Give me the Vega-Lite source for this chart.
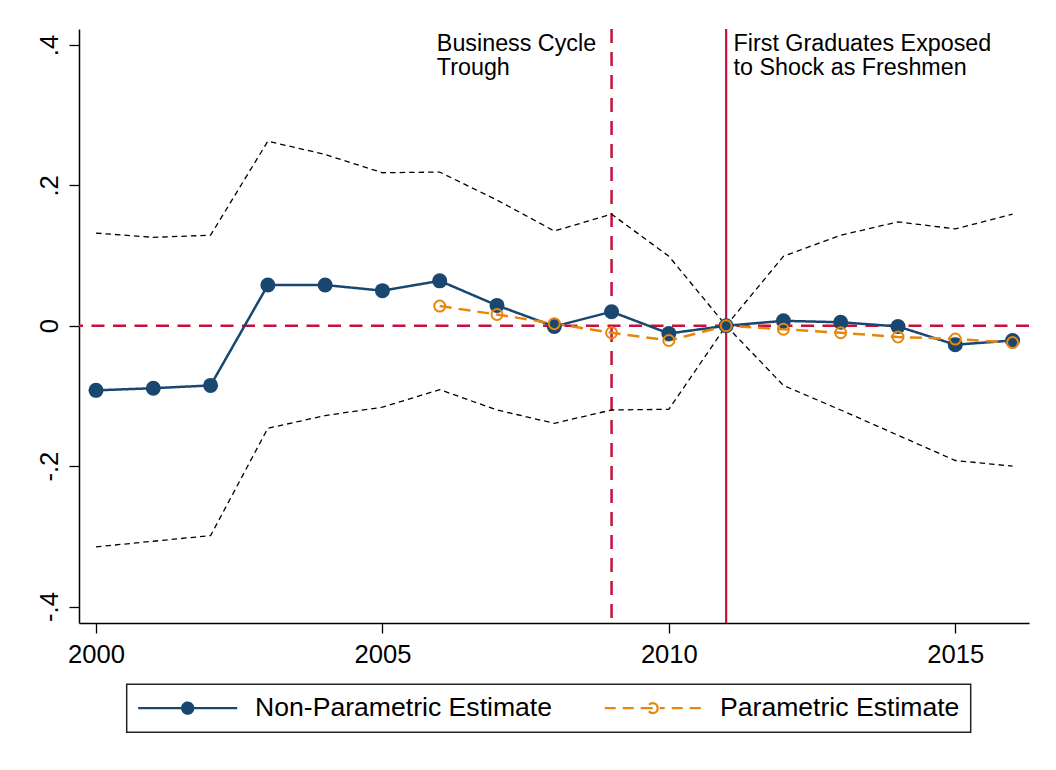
{
  "$schema": "https://vega.github.io/schema/vega-lite/v6.json",
  "width": 950,
  "height": 594,
  "autosize": {"type": "none"},
  "padding": {"left": 79, "top": 29, "right": 27, "bottom": 147},
  "background": "white",
  "config": {
    "view": {"stroke": null},
    "font": "Liberation Sans",
    "axis": {
      "grid": false,
      "domainColor": "black",
      "domainWidth": 1.5,
      "tickColor": "black",
      "tickWidth": 1.3,
      "tickSize": 10,
      "labelColor": "black",
      "labelFont": "Liberation Sans",
      "labelFontSize": 25.6,
      "labelFlush": false,
      "title": null
    }
  },
  "datasets": {
    "estimates": [
      {"year": 2000, "series": "Non-Parametric Estimate", "value": -0.092},
      {"year": 2001, "series": "Non-Parametric Estimate", "value": -0.089},
      {"year": 2002, "series": "Non-Parametric Estimate", "value": -0.085},
      {"year": 2003, "series": "Non-Parametric Estimate", "value": 0.058},
      {"year": 2004, "series": "Non-Parametric Estimate", "value": 0.058},
      {"year": 2005, "series": "Non-Parametric Estimate", "value": 0.05},
      {"year": 2006, "series": "Non-Parametric Estimate", "value": 0.064},
      {"year": 2007, "series": "Non-Parametric Estimate", "value": 0.029},
      {"year": 2008, "series": "Non-Parametric Estimate", "value": -0.001},
      {"year": 2009, "series": "Non-Parametric Estimate", "value": 0.02},
      {"year": 2010, "series": "Non-Parametric Estimate", "value": -0.011},
      {"year": 2011, "series": "Non-Parametric Estimate", "value": 0},
      {"year": 2012, "series": "Non-Parametric Estimate", "value": 0.007},
      {"year": 2013, "series": "Non-Parametric Estimate", "value": 0.005},
      {"year": 2014, "series": "Non-Parametric Estimate", "value": -0.001},
      {"year": 2015, "series": "Non-Parametric Estimate", "value": -0.027},
      {"year": 2016, "series": "Non-Parametric Estimate", "value": -0.021},
      {"year": 2006, "series": "Parametric Estimate", "value": 0.028},
      {"year": 2007, "series": "Parametric Estimate", "value": 0.016},
      {"year": 2008, "series": "Parametric Estimate", "value": 0.003},
      {"year": 2009, "series": "Parametric Estimate", "value": -0.01},
      {"year": 2010, "series": "Parametric Estimate", "value": -0.021},
      {"year": 2011, "series": "Parametric Estimate", "value": 0},
      {"year": 2012, "series": "Parametric Estimate", "value": -0.005},
      {"year": 2013, "series": "Parametric Estimate", "value": -0.01},
      {"year": 2014, "series": "Parametric Estimate", "value": -0.016},
      {"year": 2015, "series": "Parametric Estimate", "value": -0.019},
      {"year": 2016, "series": "Parametric Estimate", "value": -0.024}
    ],
    "bands": [
      {"year": 2000, "lo": -0.315, "hi": 0.132},
      {"year": 2001, "lo": -0.307, "hi": 0.126},
      {"year": 2002, "lo": -0.299, "hi": 0.129},
      {"year": 2003, "lo": -0.146, "hi": 0.263},
      {"year": 2004, "lo": -0.128, "hi": 0.244},
      {"year": 2005, "lo": -0.116, "hi": 0.218},
      {"year": 2006, "lo": -0.091, "hi": 0.219},
      {"year": 2007, "lo": -0.12, "hi": 0.179},
      {"year": 2008, "lo": -0.139, "hi": 0.135},
      {"year": 2009, "lo": -0.12, "hi": 0.159},
      {"year": 2010, "lo": -0.119, "hi": 0.099},
      {"year": 2011, "lo": 0, "hi": 0},
      {"year": 2012, "lo": -0.085, "hi": 0.099},
      {"year": 2013, "lo": -0.12, "hi": 0.129},
      {"year": 2014, "lo": -0.156, "hi": 0.148},
      {"year": 2015, "lo": -0.192, "hi": 0.138},
      {"year": 2016, "lo": -0.2, "hi": 0.159}
    ],
    "baseline": [{"value": 0}],
    "trough": [{"year": 2009}],
    "exposure": [{"year": 2011}],
    "notes": [
      {"year": 2005.95, "value": 0.391, "note": ["Business Cycle", "Trough"]},
      {"year": 2011.13, "value": 0.391, "note": ["First Graduates Exposed", "to Shock as Freshmen"]}
    ]
  },
  "layer": [
    {
      "data": {"name": "baseline"},
      "mark": {"type": "rule", "color": "#C8103C", "strokeWidth": 2.5, "strokeDash": [13, 8.5]},
      "encoding": {
        "y": {
          "field": "value",
          "type": "quantitative",
          "scale": {"domain": [-0.4235, 0.4228], "nice": false, "zero": false},
          "axis": {
            "values": [-0.4, -0.2, 0, 0.2, 0.4],
            "labelExpr": "datum.value == 0 ? '0' : (datum.value < 0 ? '-' : '') + '.' + round(abs(datum.value) * 10)",
            "labelAngle": -90,
            "labelAlign": "center",
            "labelBaseline": "bottom",
            "labelPadding": 6.6
          }
        }
      }
    },
    {
      "data": {"name": "trough"},
      "mark": {"type": "rule", "color": "#C8103C", "strokeWidth": 2.5, "strokeDash": [14, 9]},
      "encoding": {
        "x": {
          "field": "year",
          "type": "quantitative",
          "scale": {"domain": [1999.703, 2016.287], "nice": false, "zero": false},
          "axis": {"values": [2000, 2005, 2010, 2015], "format": "d", "labelPadding": 9}
        }
      }
    },
    {
      "data": {"name": "exposure"},
      "mark": {"type": "rule", "color": "#C8103C", "strokeWidth": 2.2},
      "encoding": {
        "x": {"field": "year", "type": "quantitative", "scale": {"domain": [1999.703, 2016.287], "nice": false, "zero": false}}
      }
    },
    {
      "data": {"name": "bands"},
      "transform": [{"fold": ["lo", "hi"], "as": ["bound", "limit"]}],
      "mark": {"type": "line", "color": "black", "strokeWidth": 1.3, "strokeDash": [5.5, 4]},
      "encoding": {
        "x": {"field": "year", "type": "quantitative", "scale": {"domain": [1999.703, 2016.287], "nice": false, "zero": false}},
        "y": {"field": "limit", "type": "quantitative", "scale": {"domain": [-0.4235, 0.4228], "nice": false, "zero": false}},
        "detail": {"field": "bound"}
      }
    },
    {
      "data": {"name": "estimates"},
      "mark": {"type": "line", "strokeWidth": 2.5},
      "encoding": {
        "x": {"field": "year", "type": "quantitative", "scale": {"domain": [1999.703, 2016.287], "nice": false, "zero": false}},
        "y": {"field": "value", "type": "quantitative", "scale": {"domain": [-0.4235, 0.4228], "nice": false, "zero": false}},
        "color": {
          "field": "series",
          "type": "nominal",
          "scale": {"domain": ["Non-Parametric Estimate", "Parametric Estimate"], "range": ["#1A476F", "#E8860C"]},
          "legend": {
            "orient": "none",
            "legendX": 47.7,
            "legendY": 655.3,
            "direction": "horizontal",
            "columns": 2,
            "title": null,
            "padding": 10.5,
            "fillColor": "white",
            "strokeColor": "#222222",
            "labelFont": "Liberation Sans",
            "labelFontSize": 26.6,
            "labelColor": "black",
            "labelLimit": 600,
            "labelOffset": 54,
            "symbolOffset": 37.2,
            "columnPadding": 47,
            "symbolSize": 4,
            "symbolStrokeWidth": 2.3,
            "labelExpr": "datum.value == 'Parametric Estimate' ? datum.label + '   ' : datum.label",
            "encode": {
              "legend": {"update": {"strokeWidth": {"value": 1.5}}},
              "symbols": {
                "update": {
                  "shape": {"signal": "datum.value === 'Non-Parametric Estimate' ? 'M-49.5,0H49.5M5.5,0A5.5,5.5,0,1,1,-5.5,0A5.5,5.5,0,1,1,5.5,0Z' : 'M-48,0H-37M-30,0H-19M-12,0H12M19,0H30M37,0H48M5,0A5,5,0,1,1,-5,0A5,5,0,1,1,5,0Z'"},
                  "fill": {"signal": "datum.value === 'Non-Parametric Estimate' ? '#1A476F' : 'transparent'"},
                  "stroke": {"signal": "datum.value === 'Non-Parametric Estimate' ? '#1A476F' : '#E8860C'"},
                  "strokeWidth": {"value": 2.3},
                  "size": {"value": 4},
                  "opacity": {"value": 1}
                }
              }
            }
          }
        },
        "strokeDash": {
          "field": "series",
          "type": "nominal",
          "scale": {"domain": ["Non-Parametric Estimate", "Parametric Estimate"], "range": [[1, 0], [12, 7]]},
          "legend": null
        }
      }
    },
    {
      "data": {"name": "estimates"},
      "transform": [{"filter": "datum.series === 'Non-Parametric Estimate'"}],
      "mark": {"type": "circle", "size": 225, "color": "#1A476F", "opacity": 1},
      "encoding": {
        "x": {"field": "year", "type": "quantitative", "scale": {"domain": [1999.703, 2016.287], "nice": false, "zero": false}},
        "y": {"field": "value", "type": "quantitative", "scale": {"domain": [-0.4235, 0.4228], "nice": false, "zero": false}}
      }
    },
    {
      "data": {"name": "estimates"},
      "transform": [{"filter": "datum.series === 'Parametric Estimate'"}],
      "mark": {"type": "point", "shape": "circle", "size": 121, "filled": false, "stroke": "#E8860C", "fill": "transparent", "strokeWidth": 2, "opacity": 1},
      "encoding": {
        "x": {"field": "year", "type": "quantitative", "scale": {"domain": [1999.703, 2016.287], "nice": false, "zero": false}},
        "y": {"field": "value", "type": "quantitative", "scale": {"domain": [-0.4235, 0.4228], "nice": false, "zero": false}}
      }
    },
    {
      "data": {"name": "notes"},
      "mark": {"type": "text", "align": "left", "baseline": "alphabetic", "font": "Liberation Sans", "fontSize": 23.3, "lineHeight": 23.5, "color": "black"},
      "encoding": {
        "x": {"field": "year", "type": "quantitative", "scale": {"domain": [1999.703, 2016.287], "nice": false, "zero": false}},
        "y": {"field": "value", "type": "quantitative", "scale": {"domain": [-0.4235, 0.4228], "nice": false, "zero": false}},
        "text": {"field": "note"}
      }
    }
  ]
}
